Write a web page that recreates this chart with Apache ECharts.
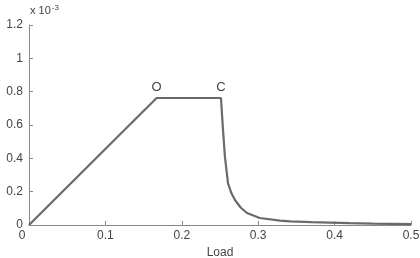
<!DOCTYPE html>
<html><head><meta charset="utf-8">
<script src="https://cdn.jsdelivr.net/npm/echarts@6/dist/echarts.min.js"></script>
<style>html,body{margin:0;padding:0;background:#fff}#c{width:420px;height:258px}</style>
</head><body><div id="c"></div>
<script>
var loadVals = [0, 0.167, 0.2513, 0.2535, 0.2565, 0.2605, 0.265, 0.2696, 0.277, 0.2853, 0.302, 0.3285, 0.342, 0.37, 0.394, 0.42, 0.45, 0.5];
var dispVals = [0, 0.762, 0.762, 0.6, 0.407, 0.25, 0.19, 0.15, 0.105, 0.072, 0.042, 0.026, 0.022, 0.017, 0.014, 0.011, 0.008, 0.005];
var xTicks = [0, 0.1, 0.2, 0.3, 0.4, 0.5];
var yTicks = [0, 0.2, 0.4, 0.6, 0.8, 1, 1.2];
var pointLabels = [{name: 'O', idx: 1}, {name: 'C', idx: 2}];

var chart = echarts.init(document.getElementById('c'));
var font = 'Liberation Sans';
chart.setOption({
  animation: false,
  grid: {left: 29, right: 9, top: 25, bottom: 33, containLabel: false, outerBoundsMode: 'none'},
  xAxis: {
    type: 'value', min: xTicks[0], max: xTicks[xTicks.length-1], interval: 0.1,
    name: 'Load', nameLocation: 'middle', nameGap: 22,
    nameTextStyle: {color: '#444', fontFamily: font, fontSize: 12},
    axisLine: {lineStyle: {color: '#888'}},
    axisTick: {inside: true, length: 4, lineStyle: {color: '#888'}},
    splitLine: {show: false},
    axisLabel: {color: '#444', fontFamily: font, fontSize: 12, margin: 5,
      formatter: function (v) { return v === 0 ? '{z|0}' : String(+v.toFixed(1)); },
      rich: {z: {color: '#444', fontFamily: font, fontSize: 12, padding: [0, 14, 0, 0]}}}
  },
  yAxis: {
    type: 'value', min: yTicks[0], max: yTicks[yTicks.length-1], interval: 0.2,
    axisLine: {show: true, lineStyle: {color: '#888'}},
    axisTick: {show: true, inside: true, length: 4, lineStyle: {color: '#888'}},
    splitLine: {show: false},
    axisLabel: {color: '#444', fontFamily: font, fontSize: 12, margin: 6,
      formatter: function (v) { return String(+v.toFixed(1)); }}
  },
  graphic: [{
    type: 'text', left: 30, top: 4,
    style: {text: '{b|x 10}{s|-3}', rich: {
      b: {fontFamily: font, fontSize: 11, fill: '#444'},
      s: {fontFamily: font, fontSize: 8, fill: '#444', verticalAlign: 'top', padding: [0, 0, 6, 1]}
    }}
  }],
  series: [{
    type: 'line', symbol: 'none',
    data: loadVals.map(function (x, i) { return [x, dispVals[i]]; }),
    lineStyle: {color: '#6a6a6a', width: 2.2},
    markPoint: {
      symbol: 'circle', symbolSize: 0,
      label: {show: true, position: 'top', distance: 4, color: '#444', fontFamily: font, fontSize: 13,
        formatter: function (p) { return p.name; }},
      data: pointLabels.map(function (p) { return {name: p.name, coord: [loadVals[p.idx], dispVals[p.idx]]}; })
    }
  }]
});
</script></body></html>
